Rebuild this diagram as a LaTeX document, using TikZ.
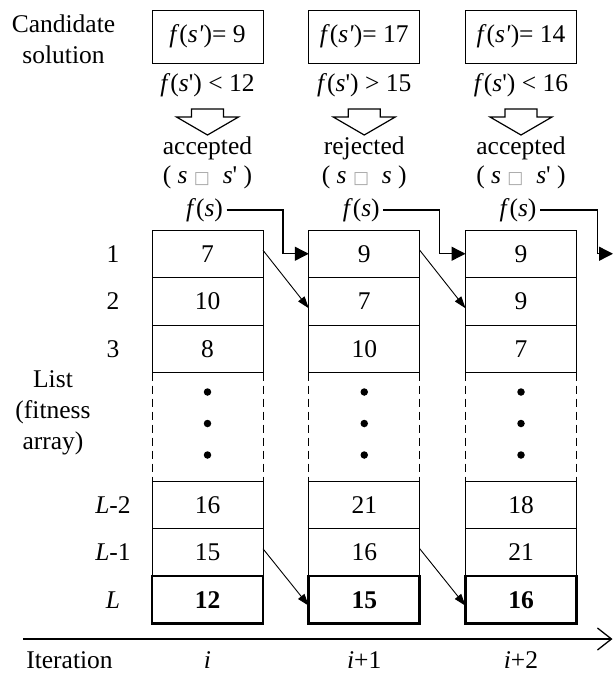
\documentclass[tikz,border=0pt]{standalone}
\usepackage{fontspec}
\setmainfont{Liberation Serif}
\newfontfamily\boxfont{DejaVu Sans}
\usetikzlibrary{arrows.meta}

\newcommand{\fsprime}{\textit{f}(\textit{s}\textquotesingle)}
\newcommand{\emptyglyph}{{\color{gray!70}\boxfont\fontsize{17}{17}\selectfont □}}

\tikzset{
  every node/.style={font=\fontsize{25.5}{31}\selectfont},
  cell/.style={draw, line width=1pt, minimum width=111pt, minimum height=47.5pt, inner sep=0pt, outer sep=0pt},
  lastcell/.style={cell, line width=2.8pt},
  candbox/.style={draw, line width=1pt, minimum width=111pt, minimum height=53pt, inner sep=0pt},
  blockarrow/.style={draw, line width=1.2pt, fill=white, line join=miter},
  passon/.style={draw, line width=1.4pt, -{Triangle[length=14pt,width=14pt]}},
  slide/.style={draw, line width=0.9pt, -{Triangle[length=12pt,width=8pt]}},
  gap/.style={line width=1pt, dash pattern=on 8pt off 5pt},
  dotmark/.style={fill, circle, inner sep=0pt, minimum size=7.5pt},
  timeaxis/.style={line width=1.3pt, -{Straight Barb[length=14pt,width=22pt]}},
}

\begin{document}
\begin{tikzpicture}[x=1pt,y=-1pt]
\useasboundingbox (0,0) rectangle (613,675);

% labels on the left
\node[align=center] (cand) at (63.5,39) {Candidate\\solution};
\node (n1) at (113,253.75) {1};
\node (n2) at (113,301.25) {2};
\node (n3) at (113,348.75) {3};
\node[align=center] (list) at (53,412.5) {List\\(fitness\\array)};
\node (nL2) at (113,504.75) {\textit{L}-2};
\node (nL1) at (113,552.25) {\textit{L}-1};
\node (nL) at (113,599.75) {\textit{L}};
\node (iter) at (69.5,660) {Iteration};

% one column per iteration
\foreach \c/\x/\fn/\cond/\dec/\res/\lab/\va/\vb/\vc/\vd/\ve/\vf in {
    1/207.5/9/{< 12}/accepted/{\textit{s}\textquotesingle}/{\textit{i}}/7/10/8/16/15/12,
    2/364.25/17/{> 15}/rejected/{\textit{s}}/{\textit{i}+1}/9/7/10/21/16/15,
    3/521/14/{< 16}/accepted/{\textit{s}\textquotesingle}/{\textit{i}+2}/9/9/7/18/21/16}
{
  \node[candbox] (cand\c) at (\x,36.5) {\textit{f}(\textit{s\textquotesingle})= \fn};
  \node (cond\c) at (\x,85) {\fsprime{} \cond};
  \draw[blockarrow] ({\x-16},109) -- ({\x+16},109) -- ({\x+16},117) -- ({\x+31},117)
        -- ({\x},135) -- ({\x-31},117) -- ({\x-16},117) -- cycle;
  \node (dec\c) at (\x,148) {\dec};
  \node (res\c) at (\x,177) {( \textit{s} \emptyglyph\ \ \res{} )};
  \node (fs\c) at ({\x-3},210) {\textit{f}(\textit{s})};
  \node[cell] (c\c r1) at (\x,253.75) {\va};
  \node[cell] (c\c r2) at (\x,301.25) {\vb};
  \node[cell] (c\c r3) at (\x,348.75) {\vc};
  \node[cell] (c\c r4) at (\x,504.75) {\vd};
  \node[cell] (c\c r5) at (\x,552.25) {\ve};
  \node[lastcell] (c\c r6) at (\x,599.75) {\textbf{\vf}};
  \draw[gap] (c\c r3.south west) -- (c\c r4.north west);
  \draw[gap] (c\c r3.south east) -- (c\c r4.north east);
  \foreach \y in {392,423.5,455}
    \node[dotmark] at (\x,\y) {};
  \node (it\c) at (\x,660) {\lab};
}

% f(s) handed to the next iteration
\coordinate (next) at (613,253.75);
\draw[passon] (fs1.east) -| ([xshift=20pt]c1r1.east) |- (c2r1.west);
\draw[passon] (fs2.east) -| ([xshift=20pt]c2r1.east) |- (c3r1.west);
\draw[passon] (fs3.east) -| ([xshift=21pt]c3r1.east) |- (next);

% list shifted down by one
\draw[slide] ([yshift=3.5pt]c1r1.east) -- ([yshift=-7pt]c2r2.west);
\draw[slide] ([yshift=3.5pt]c2r1.east) -- ([yshift=-7pt]c3r2.west);
\draw[slide] ([yshift=3.5pt]c1r5.east) -- ([yshift=-6pt]c2r6.west);
\draw[slide] ([yshift=3.5pt]c2r5.east) -- ([yshift=-6pt]c3r6.west);

% iteration axis
\coordinate (axstart) at (23,639);
\coordinate (axend) at (612.5,639);
\draw[timeaxis] (axstart) -- (axend);
\end{tikzpicture}
\end{document}
